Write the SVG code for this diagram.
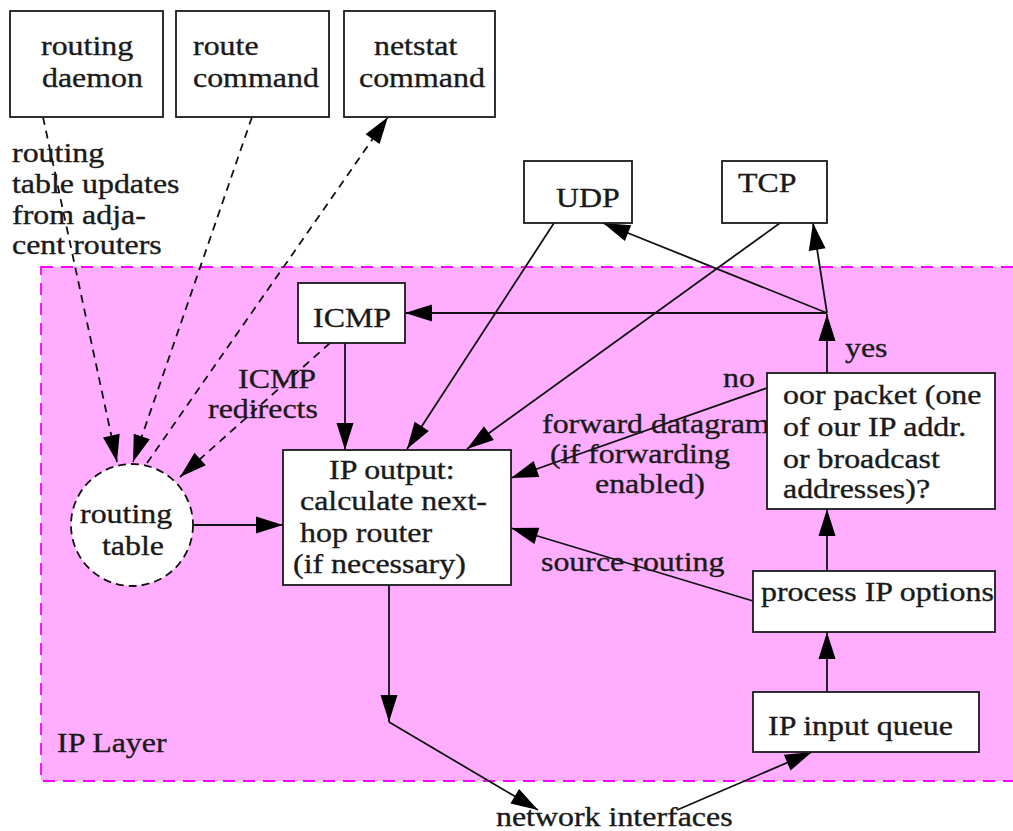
<svg xmlns="http://www.w3.org/2000/svg" width="1013" height="831" viewBox="0 0 1013 831">
<style>
.t{font-family:"Liberation Serif","Times New Roman",serif;font-size:28px;fill:#1a1a1a;stroke:#1a1a1a;stroke-width:0.35}
.box{fill:#fff;stroke:#1a1a1a;stroke-width:1.8}
.e{fill:none;stroke:#111;stroke-width:1.8}
.d{fill:none;stroke:#111;stroke-width:1.8;stroke-dasharray:8,6}
</style>
<defs>
<marker id="ah" markerUnits="userSpaceOnUse" markerWidth="28" markerHeight="18" refX="27" refY="8.5" orient="auto" overflow="visible">
<path d="M0,0 L27,8.5 L0,17 Z" fill="#000" stroke="none"/>
</marker>
</defs>
<rect width="1013" height="831" fill="#fff"/>
<g id="ip-layer">
<rect x="41" y="267" width="990" height="514" fill="#FFAEFF" stroke="#FF00FF" stroke-width="1.8" stroke-dasharray="12,8"/>
<text class="t" transform="translate(57,752) scale(1.14,1)">IP Layer</text>
</g>
<g id="connectors">
<line class="d" x1="43" y1="117" x2="117" y2="462" marker-end="url(#ah)"/>
<line class="d" x1="252" y1="117" x2="133" y2="462" marker-end="url(#ah)"/>
<line class="d" x1="147" y1="463" x2="388" y2="117" marker-end="url(#ah)"/>
<line class="d" x1="330" y1="343" x2="180" y2="477" marker-end="url(#ah)"/>
<line class="e" x1="193" y1="525" x2="283" y2="525" marker-end="url(#ah)"/>
<line class="e" x1="345" y1="343" x2="345" y2="450" marker-end="url(#ah)"/>
<line class="e" x1="554" y1="223" x2="407" y2="449" marker-end="url(#ah)"/>
<line class="e" x1="780" y1="223" x2="467" y2="449" marker-end="url(#ah)"/>
<line class="e" x1="827" y1="373" x2="827" y2="314" marker-end="url(#ah)"/>
<line class="e" x1="827" y1="313" x2="405" y2="313" marker-end="url(#ah)"/>
<line class="e" x1="827" y1="313" x2="603" y2="223" marker-end="url(#ah)"/>
<line class="e" x1="827" y1="313" x2="813" y2="223" marker-end="url(#ah)"/>
<line class="e" x1="767" y1="388" x2="511" y2="478" marker-end="url(#ah)"/>
<line class="e" x1="827" y1="571" x2="827" y2="509" marker-end="url(#ah)"/>
<line class="e" x1="753" y1="601" x2="511" y2="528" marker-end="url(#ah)"/>
<line class="e" x1="827" y1="692" x2="827" y2="632" marker-end="url(#ah)"/>
<line class="e" x1="389" y1="585" x2="389" y2="722" marker-end="url(#ah)"/>
<line class="e" x1="389" y1="722" x2="538" y2="810" marker-end="url(#ah)"/>
<line class="e" x1="677" y1="810" x2="812" y2="752" marker-end="url(#ah)"/>
</g>
<g id="edge-labels">
<text class="t" transform="translate(12,162) scale(1.14,1)">routing</text>
<text class="t" transform="translate(12,193) scale(1.14,1)">table updates</text>
<text class="t" transform="translate(12,224) scale(1.14,1)">from adja-</text>
<text class="t" transform="translate(12,254) scale(1.14,1)">cent routers</text>
<text class="t" transform="translate(238,388) scale(1.14,1)">ICMP</text>
<text class="t" transform="translate(208,418) scale(1.14,1)">redirects</text>
<text class="t" transform="translate(845,357) scale(1.14,1)">yes</text>
<text class="t" transform="translate(723,387) scale(1.14,1)">no</text>
<text class="t" transform="translate(542,433) scale(1.14,1)">forward datagram</text>
<text class="t" transform="translate(550,463) scale(1.14,1)">(if forwarding</text>
<text class="t" transform="translate(595,493) scale(1.14,1)">enabled)</text>
<text class="t" transform="translate(541,571) scale(1.14,1)">source routing</text>
<text class="t" transform="translate(496,826) scale(1.14,1)">network interfaces</text>
</g>
<g id="routing-daemon">
<rect class="box" x="10" y="11" width="153" height="106"/>
<text class="t" transform="translate(41,55) scale(1.14,1)">routing</text>
<text class="t" transform="translate(42,87) scale(1.14,1)">daemon</text>
</g>
<g id="route-command">
<rect class="box" x="176" y="11" width="153" height="106"/>
<text class="t" transform="translate(193,55) scale(1.14,1)">route</text>
<text class="t" transform="translate(193,87) scale(1.14,1)">command</text>
</g>
<g id="netstat-command">
<rect class="box" x="344" y="11" width="151" height="106"/>
<text class="t" transform="translate(374,55) scale(1.14,1)">netstat</text>
<text class="t" transform="translate(359,87) scale(1.14,1)">command</text>
</g>
<g id="udp">
<rect class="box" x="524" y="161" width="108" height="62"/>
<text class="t" transform="translate(556,207) scale(1.14,1)">UDP</text>
</g>
<g id="tcp">
<rect class="box" x="722" y="161" width="105" height="62"/>
<text class="t" transform="translate(738,192) scale(1.14,1)">TCP</text>
</g>
<g id="icmp">
<rect class="box" x="298" y="283" width="107" height="60"/>
<text class="t" transform="translate(313,327) scale(1.14,1)">ICMP</text>
</g>
<g id="routing-table">
<circle cx="132" cy="525" r="61" fill="#fff" stroke="#111" stroke-width="1.8" stroke-dasharray="8,5"/>
<text class="t" transform="translate(80,523) scale(1.14,1)">routing</text>
<text class="t" transform="translate(102,555) scale(1.14,1)">table</text>
</g>
<g id="ip-output">
<rect class="box" x="283" y="450" width="228" height="135"/>
<text class="t" transform="translate(329,479) scale(1.14,1)">IP output:</text>
<text class="t" transform="translate(300,510) scale(1.14,1)">calculate next-</text>
<text class="t" transform="translate(300,542) scale(1.14,1)">hop router</text>
<text class="t" transform="translate(293,573) scale(1.14,1)">(if necessary)</text>
</g>
<g id="for-our-packet">
<rect class="box" x="767" y="373" width="228" height="136"/>
<text class="t" transform="translate(783,404) scale(1.14,1)">oor packet (one</text>
<text class="t" transform="translate(783,436) scale(1.14,1)">of our IP addr.</text>
<text class="t" transform="translate(783,468) scale(1.14,1)">or broadcast</text>
<text class="t" transform="translate(783,498) scale(1.14,1)">addresses)?</text>
</g>
<g id="process-ip-options">
<rect class="box" x="753" y="571" width="242" height="61"/>
<text class="t" transform="translate(761,601) scale(1.14,1)">process IP options</text>
</g>
<g id="ip-input-queue">
<rect class="box" x="753" y="692" width="226" height="60"/>
<text class="t" transform="translate(768,735) scale(1.14,1)">IP input queue</text>
</g>
</svg>
